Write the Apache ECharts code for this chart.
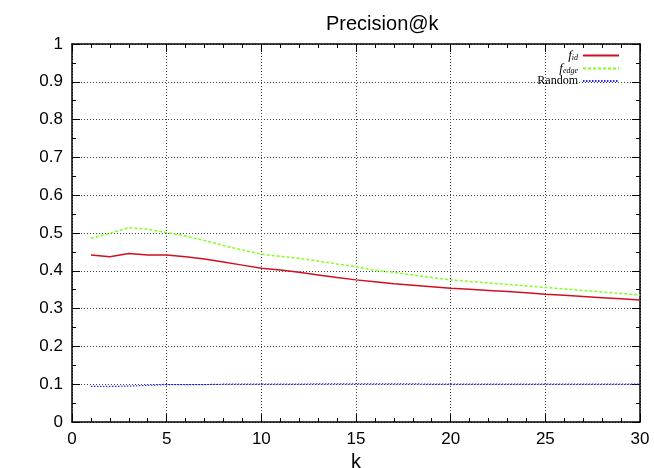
<!DOCTYPE html>
<html>
<head>
<meta charset="utf-8">
<script src="https://cdn.jsdelivr.net/npm/echarts@6/dist/echarts.min.js"></script>
<style>
html,body{margin:0;padding:0;background:#fff;}
#main{width:654px;height:468px;}
</style>
</head>
<body>
<div id="main"></div>
<script>
var kValues = [1,2,3,4,5,6,7,8,9,10,11,12,13,14,15,16,17,18,19,20,21,22,23,24,25,26,27,28,29,30];
var fId = [0.442,0.437,0.446,0.442,0.442,0.437,0.431,0.423,0.415,0.407,0.402,0.396,0.389,0.382,0.376,0.371,0.366,0.362,0.358,0.354,0.351,0.348,0.345,0.342,0.338,0.335,0.332,0.329,0.326,0.323];
var fEdge = [0.486,0.499,0.514,0.510,0.501,0.492,0.480,0.467,0.455,0.444,0.438,0.433,0.426,0.418,0.411,0.401,0.396,0.389,0.382,0.376,0.372,0.368,0.364,0.360,0.356,0.352,0.348,0.344,0.340,0.336];
var randomP = [0.094,0.094,0.095,0.097,0.099,0.099,0.099,0.100,0.100,0.100,0.100,0.100,0.101,0.101,0.101,0.101,0.101,0.101,0.100,0.100,0.100,0.100,0.100,0.100,0.100,0.100,0.100,0.100,0.100,0.100];
var yTicks = ['0','0.1','0.2','0.3','0.4','0.5','0.6','0.7','0.8','0.9','1'];

function pairs(vals) {
    var out = [];
    for (var i = 0; i < kValues.length; i++) out.push([kValues[i], vals[i]]);
    return out;
}

var font = '"Liberation Sans", Arial, sans-serif';
var myChart = echarts.init(document.getElementById('main'));

// one axis: major ticks (len 8) or minor ticks (len 4), all pointing inward
function makeAxis(pos, max, interval, tickLen, showLine, extra) {
    var a = {
        type: 'value', position: pos, min: 0, max: max, interval: interval,
        axisLine: {show: showLine, onZero: false, lineStyle: {color: '#000', width: 1.5}},
        axisTick: {show: true, inside: true, length: tickLen, lineStyle: {color: '#000', width: 1}},
        axisLabel: {show: false},
        splitLine: {show: false}
    };
    for (var k in extra) a[k] = extra[k];
    return a;
}

var gridLine = {show: true, lineStyle: {color: '#444', type: [1, 2], width: 1}};

var option = {
    backgroundColor: '#fff',
    animation: false,
    title: {
        text: 'Precision@k',
        left: 321,
        top: 9,
        textStyle: {fontFamily: font, fontSize: 20, fontWeight: 'normal', color: '#000'}
    },
    legend: {
        orient: 'vertical',
        right: 29,
        top: 44,
        align: 'right',
        itemWidth: 36,
        itemHeight: 8,
        itemGap: 0,
        itemStyle: {opacity: 0},
        data: ['f_id', 'f_edge', 'Random'],
        formatter: function (name) {
            if (name === 'Random') return '{rm|Random}';
            return '{it|f}{sub|' + name.split('_')[1] + '}';
        },
        textStyle: {
            fontFamily: '"Liberation Serif", serif',
            color: '#000',
            rich: {
                rm: {fontFamily: '"Liberation Serif", serif', fontSize: 12, color: '#000'},
                it: {fontFamily: '"Liberation Serif", serif', fontStyle: 'italic', fontSize: 13, color: '#000'},
                sub: {fontFamily: '"Liberation Serif", serif', fontStyle: 'italic', fontSize: 8, color: '#000', verticalAlign: 'bottom', padding: [4, 0, 0, 0]}
            }
        }
    },
    grid: {left: 72, right: 14, top: 44, bottom: 46, outerBoundsMode: 'none', containLabel: false},
    xAxis: [
        makeAxis('bottom', 30, 5, 8, true, {
            name: 'k', nameLocation: 'middle', nameGap: 30,
            nameTextStyle: {fontFamily: font, fontSize: 20, color: '#000'},
            axisLabel: {show: true, fontFamily: font, fontSize: 17, color: '#000', margin: 9},
            splitLine: gridLine
        }),
        makeAxis('top', 30, 5, 8, true, {}),
        makeAxis('bottom', 30, 1, 4, false, {}),
        makeAxis('top', 30, 1, 4, false, {})
    ],
    yAxis: [
        makeAxis('left', 1, 0.1, 8, true, {
            name: 'Precision', nameLocation: 'middle', nameGap: 48,
            nameTextStyle: {fontFamily: font, fontSize: 20, color: '#000', padding: [0, 0, 22, 0]},
            axisLabel: {show: true, fontFamily: font, fontSize: 17, color: '#000', margin: 9,
                formatter: function (v) { return yTicks[Math.round(v * 10)]; }},
            splitLine: gridLine
        }),
        makeAxis('right', 1, 0.1, 8, true, {}),
        makeAxis('left', 1, 0.05, 4, false, {}),
        makeAxis('right', 1, 0.05, 4, false, {})
    ],
    series: [
        {
            name: 'f_id', type: 'line', showSymbol: false, symbol: 'none',
            data: pairs(fId), color: '#d01020',
            lineStyle: {color: '#d01020', width: 1.5, type: 'solid'}
        },
        {
            name: 'f_edge', type: 'line', showSymbol: false, symbol: 'none',
            data: pairs(fEdge), color: '#80ff20',
            lineStyle: {color: '#80ff20', width: 1.5, type: [3, 2]}
        },
        {
            name: 'Random', type: 'line', showSymbol: false, symbol: 'none',
            data: pairs(randomP), color: '#2020ff',
            lineStyle: {color: '#2020ff', width: 1.2, type: [1.5, 1.5]}
        }
    ]
};
myChart.setOption(option);
</script>
</body>
</html>
